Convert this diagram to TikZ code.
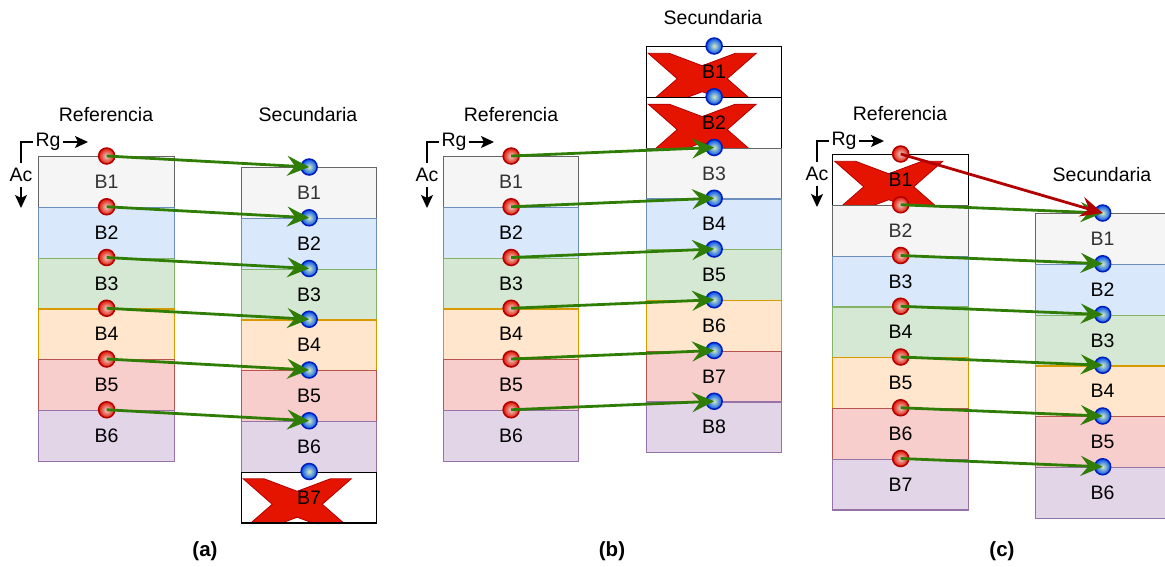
\documentclass[tikz,border=0pt]{standalone}
\usepackage{fontspec}
\setmainfont{Liberation Sans}
\usetikzlibrary{arrows.meta,calc}

% block palette
\definecolor{gyF}{HTML}{F5F5F5}\definecolor{gyD}{HTML}{666666}\definecolor{gyT}{HTML}{333333}
\definecolor{blF}{HTML}{DAE8FC}\definecolor{blD}{HTML}{6C8EBF}
\definecolor{grF}{HTML}{D5E8D4}\definecolor{grD}{HTML}{82B366}
\definecolor{orF}{HTML}{FFE6CC}\definecolor{orD}{HTML}{D79B00}
\definecolor{rdF}{HTML}{F8CECC}\definecolor{rdD}{HTML}{B85450}
\definecolor{puF}{HTML}{E1D5E7}\definecolor{puD}{HTML}{9673A6}
% cross, markers, connectors
\definecolor{xF}{HTML}{E51400}\definecolor{xD}{HTML}{B20000}
\definecolor{rmIn}{HTML}{E6D6D0}\definecolor{rmF}{HTML}{E51400}\definecolor{rmD}{HTML}{B20000}
\definecolor{bmIn}{HTML}{D2ECC0}\definecolor{bmF}{HTML}{0050EF}\definecolor{bmD}{HTML}{001DBC}
\definecolor{gArr}{HTML}{2F7D05}\definecolor{rArr}{HTML}{B20000}

\tikzset{
  txt/.style={font=\fontsize{19.5}{23}\selectfont},
  blk/.style={rectangle, line width=1.3pt, minimum height=50.75pt, inner sep=0pt, txt, text=black},
  gy/.style={fill=gyF, draw=gyD, text=gyT},
  bl/.style={fill=blF, draw=blD},
  gr/.style={fill=grF, draw=grD},
  or/.style={fill=orF, draw=orD},
  rd/.style={fill=rdF, draw=rdD},
  pu/.style={fill=puF, draw=puD},
  xx/.style={fill=white, draw=black, path picture={
      \filldraw[fill=xF, draw=xD, line width=0.8pt, shift={(path picture bounding box.center)}]
        (-54,-25.4) -- (-33,-25.4) -- (0,-13) -- (33,-25.4) -- (54,-25.4) -- (25,0)
        -- (54,25.4) -- (33,25.4) -- (0,13) -- (-33,25.4) -- (-54,25.4) -- (-25,0) -- cycle;}},
  rmark/.style={circle, inner sep=0pt, minimum size=16pt, draw=rmD, line width=1.5pt,
    inner color=rmIn, outer color=rmF},
  bmark/.style={circle, inner sep=0pt, minimum size=16pt, draw=bmD, line width=1.5pt,
    inner color=bmIn, outer color=bmF},
  garr/.style={draw=gArr, line width=2.8pt, -{Stealth[length=22pt,width=20pt,inset=8pt]}},
  rarr/.style={draw=rArr, line width=2.8pt, -{Stealth[length=22pt,width=20pt,inset=8pt]}},
  ttl/.style={txt, inner sep=0pt},
  caplbl/.style={font=\fontsize{20.5}{24}\selectfont\bfseries, inner sep=0pt},
  rglbl/.style={txt, inner sep=2pt},
  aclbl/.style={txt, inner xsep=2pt, inner ysep=5pt},
  axl/.style={line width=1.5pt, black},
  axarr/.style={axl, -{Stealth[length=13pt,width=12pt,inset=3pt]}},
}

% a column of stacked blocks: prefix, left x, top y, width, list of styles
\newcommand\blkcol[5]{%
  \foreach \s [count=\i] in {#5} {
    \node[blk, \s, minimum width=#4pt, anchor=north west] (#1\i) at (#2,{#3+(\i-1)*50.75}) {B\i};
  }%
}
% range / azimuth axes: prefix, corner x, corner y
\newcommand\rgac[3]{%
  \node[rglbl] (#1rg) at (#2+27,#3) {Rg};
  \node[aclbl] (#1ac) at (#2,#3+33) {Ac};
  \draw[axl] (#1ac.north) |- (#1rg.west);
  \coordinate (#1rgend) at (#2+67,#3);
  \coordinate (#1acend) at (#2,#3+66);
  \draw[axarr] (#1rg.east) -- (#1rgend);
  \draw[axarr] (#1ac.south) -- (#1acend);
}

\begin{document}
\begin{tikzpicture}[x=1pt, y=-1pt]
\useasboundingbox (0,0) rectangle (1165,566);

% ---------- (a) ----------
\rgac{a}{21}{142}
\node[ttl] (refa) at (106,115) {Referencia};
\node[ttl] (seca) at (308,115) {Secundaria};
\blkcol{ra}{38}{156}{136}{gy,bl,gr,or,rd,pu}
\blkcol{sa}{241}{167}{135}{gy,bl,gr,or,rd,pu,xx}
\foreach \i in {1,...,6} \node[rmark] (rad\i) at (ra\i.north) {};
\foreach \i in {1,...,7} \node[bmark] (sad\i) at (sa\i.north) {};
\foreach \i in {1,...,6} \draw[garr] (rad\i.center) -- (sad\i.center);
\node[caplbl] (capa) at (205,551) {(a)};

% ---------- (b) ----------
\rgac{b}{427}{142}
\node[ttl] (refb) at (511,115) {Referencia};
\node[ttl] (secb) at (713,18) {Secundaria};
\blkcol{rb}{443}{156}{135}{gy,bl,gr,or,rd,pu}
\blkcol{sb}{646}{46}{135}{xx,xx,gy,bl,gr,or,rd,pu}
\foreach \i in {1,...,6} \node[rmark] (rbd\i) at (rb\i.north) {};
\foreach \i in {1,...,8} \node[bmark] (sbd\i) at (sb\i.north) {};
\foreach \i [evaluate=\i as \j using int(\i+2)] in {1,...,6}
  \draw[garr] (rbd\i.center) -- (sbd\j.center);
\node[caplbl] (capb) at (612,551) {(b)};

% ---------- (c) ----------
\rgac{c}{817}{141}
\node[ttl] (refc) at (900,114) {Referencia};
\node[ttl] (secc) at (1102,175) {Secundaria};
\blkcol{rc}{832}{154}{136}{xx,gy,bl,gr,or,rd,pu}
\blkcol{sc}{1034.5}{213}{135}{gy,bl,gr,or,rd,pu}
\foreach \i in {1,...,7} \node[rmark] (rcd\i) at (rc\i.north) {};
\foreach \i in {1,...,6} \node[bmark] (scd\i) at (sc\i.north) {};
\foreach \i [evaluate=\i as \j using int(\i+1)] in {1,...,6}
  \draw[garr] (rcd\j.center) -- (scd\i.center);
\draw[rarr] (rcd1.center) -- (scd1.center);
\node[caplbl] (capc) at (1002,551) {(c)};
\end{tikzpicture}
\end{document}
